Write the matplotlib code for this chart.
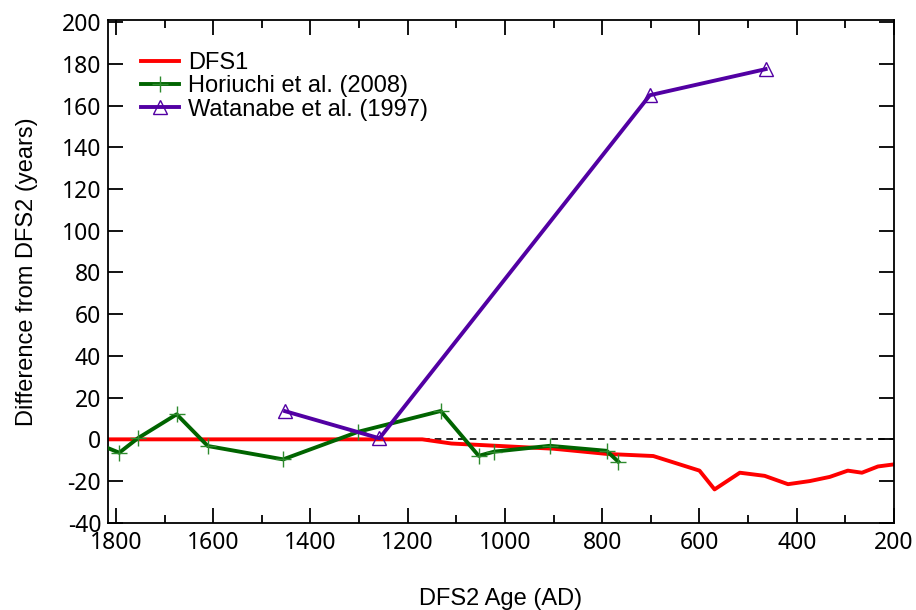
import matplotlib
matplotlib.use("Agg")
import matplotlib.pyplot as plt
from matplotlib.ticker import MultipleLocator

plt.rcParams['font.family'] = ['Liberation Sans', 'DejaVu Sans']
plt.rcParams['axes.unicode_minus'] = False

# DFS1
dfs1_x = [1816, 1170, 1110, 900, 790, 695, 600, 569, 517, 466, 418, 373, 332, 295, 266, 233, 200]
dfs1_y = [0, 0, -2, -4.5, -7, -8, -15, -24, -16, -17.5, -21.5, -20, -18, -15, -16, -13, -12]

# Horiuchi et al. (2008)
hor_x = [1850, 1793, 1755, 1675, 1611, 1456, 1302, 1132, 1054, 1022, 908, 791, 767]
hor_y = [-1, -6.4, 0.5, 12, -3.2, -9.6, 3.6, 13.6, -7.9, -5.9, -3.1, -5.5, -10.7]

# Watanabe et al. (1997)
wat_x = [1452, 1258, 702, 464]
wat_y = [13.5, 0.5, 165, 177.5]

fig = plt.figure(figsize=(9.16, 6.10), dpi=100)
ax = fig.add_axes([0.118, 0.143, 0.858, 0.824])

ax.axhline(0, color='black', lw=1.2, ls=(0, (4, 3)), zorder=1)
ax.plot(dfs1_x, dfs1_y, color='#ff0000', lw=2.8, label='DFS1', zorder=2)
ax.plot(hor_x, hor_y, color='#006400', lw=2.8, marker='+', ms=11, mew=1.0,
        mec='#2e8b2e', label='Horiuchi et al. (2008)', zorder=3)
ax.plot(wat_x, wat_y, color='#5200a3', lw=2.8, marker='^', ms=10, mew=1.0,
        mfc='none', mec='#5200a3', label='Watanabe et al. (1997)', zorder=4)

ax.set_xlim(1816, 200)
ax.set_ylim(-40, 201)
ax.xaxis.set_major_locator(MultipleLocator(200))
ax.xaxis.set_minor_locator(MultipleLocator(100))
ax.yaxis.set_major_locator(MultipleLocator(20))

ax.tick_params(which='both', direction='in', top=True, right=True, width=1.3)
ax.tick_params(which='major', length=11)
ax.tick_params(which='minor', length=6)
ax.tick_params(axis='x', which='major', pad=6)
ax.tick_params(axis='y', which='major', pad=5)
for lab in ax.get_xticklabels() + ax.get_yticklabels():
    lab.set_fontfamily(['Noto Sans', 'DejaVu Sans'])
    lab.set_fontsize(16.5)
for s in ax.spines.values():
    s.set_linewidth(1.3)

ax.set_xlabel('DFS2 Age (AD)', fontsize=17, labelpad=24)
ax.set_ylabel('Difference from DFS2 (years)', fontsize=17, labelpad=17)

leg = ax.legend(loc='upper left', frameon=False, fontsize=17, handlelength=1.6,
                handletextpad=0.4, labelspacing=0.05, borderaxespad=0,
                bbox_to_anchor=(0.030, 0.955))

fig.savefig('out.png', dpi=100)
